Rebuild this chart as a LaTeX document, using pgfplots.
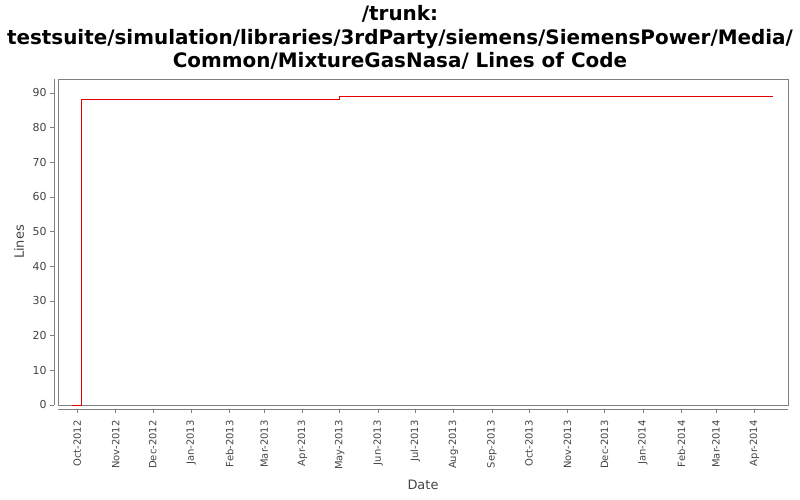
\documentclass[border=0pt]{standalone}
\usepackage{pgfplots}
\pgfplotsset{compat=1.18}
\usepackage{fontspec}
\setmainfont{DejaVu Sans}
\definecolor{axgray}{HTML}{808080}
\definecolor{lblgray}{HTML}{444444}
\begin{document}
\begin{tikzpicture}[x=1bp,y=1bp]
\begin{axis}[
  at={(0,0)}, anchor=south west,
  scale only axis, width=729.5bp, height=325.7bp,
  xmin=-15.2, xmax=574.2, ymin=0, ymax=93.9,
  axis lines=left,
  axis line style={-, axgray},
  axis x line shift=4bp,
  axis y line shift=4.5bp,
  tick style={axgray, line width=0.6pt},
  tick align=outside,
  major tick length=4bp,
  ytick={0,10,...,90},
  xtick={0,31,61,92,123,151,182,212,243,273,304,335,365,396,426,457,488,516,547},
  xticklabels={Oct-2012,Nov-2012,Dec-2012,Jan-2013,Feb-2013,Mar-2013,Apr-2013,May-2013,Jun-2013,Jul-2013,Aug-2013,Sep-2013,Oct-2013,Nov-2013,Dec-2013,Jan-2014,Feb-2014,Mar-2014,Apr-2014},
  xticklabel style={rotate=90, anchor=east, font=\fontsize{10}{12}\selectfont, text=lblgray, xshift=-4bp},
  yticklabel style={font=\fontsize{11}{13}\selectfont, text=lblgray},
  /pgf/number format/assume math mode=true,
  clip=false,
]
\draw[axgray, line width=0.8pt] (rel axis cs:0,0) rectangle (rel axis cs:1,1);
\addplot[red!90!black, line width=0.8pt, const plot] coordinates {
  (-4,0) (3.2,0) (3.2,88) (211.7,89) (562,89)
};
\end{axis}
\node[font=\fontsize{13}{15}\selectfont, text=lblgray] at (364.5,-80) {Date};
\node[font=\fontsize{13}{15}\selectfont, text=lblgray, rotate=90] at (-39.5,163) {Lines};
\node[font=\fontsize{20}{23.5}\selectfont\bfseries, align=center, anchor=north] at (341.5,403)
  {/trunk:\\testsuite/simulation/libraries/3rdParty/siemens/SiemensPower/Media/\\Common/MixtureGasNasa/ Lines of Code};
\useasboundingbox (-58.5,-95) rectangle (741.5,405);
\end{tikzpicture}
\end{document}
